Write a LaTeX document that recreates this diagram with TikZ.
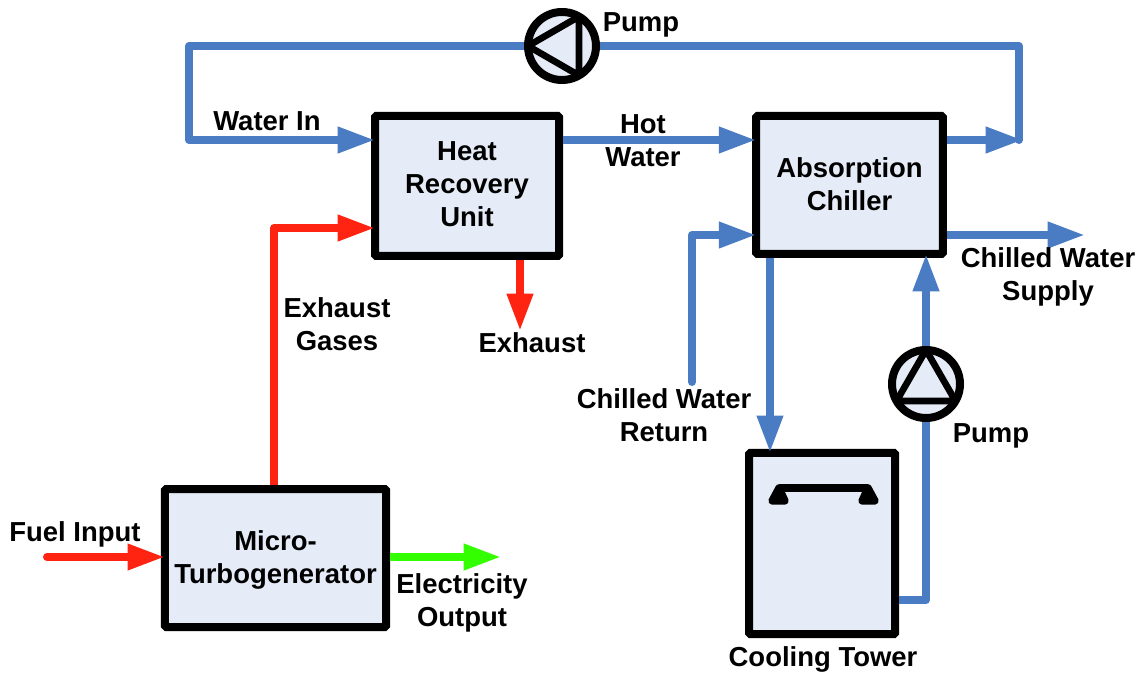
\documentclass[tikz,border=0pt]{standalone}
\usepackage{fontspec}
\setmainfont{Liberation Sans}
\usepackage{xcolor}
\usetikzlibrary{arrows.meta}
\definecolor{water}{HTML}{4A7CC3}
\definecolor{hotgas}{HTML}{FF2412}
\definecolor{power}{HTML}{33FF00}
\definecolor{unitfill}{HTML}{E6ECF7}
\begin{document}
\begin{tikzpicture}[
    x=0.75pt, y=-0.75pt,
    unit/.style={draw=black, line width=6pt, fill=unitfill, rounded corners=1pt,
                 align=center, inner sep=0pt, font=\fontsize{20.6}{24.75}\selectfont\bfseries},
    pump/.style={circle, draw=black, line width=6pt, fill=unitfill, minimum size=51pt, inner sep=0pt, outer sep=0pt},
    pumptri/.style={draw=black, line width=5pt, line join=round},
    lbl/.style={align=center, inner sep=0pt, font=\fontsize{20.6}{24.75}\selectfont\bfseries},
    pipe/.style={draw=water, line width=6pt, line join=round},
    flow/.style={-{Triangle[length=28pt, width=18.5pt]}, shorten >=-3pt},
    gas/.style={pipe, draw=hotgas},
    elec/.style={pipe, draw=power}
  ]
    \useasboundingbox (0,0) rectangle (1142,673);
    \fill[white] (0,0) rectangle (1142,673);

    % units
    \node[unit, minimum width=138pt, minimum height=105pt, text depth=3pt] (hru) at (467,186) {Heat\\Recovery\\Unit};
    \node[unit, minimum width=140pt, minimum height=103.5pt, text depth=1.5pt] (chiller) at (849.5,185) {Absorption\\Chiller};
    \node[unit, minimum width=166pt, minimum height=103.5pt] (mtg) at (275.5,558) {\rule{0pt}{18pt}Micro-\\Turbogenerator};
    \node[unit, minimum width=109.5pt, minimum height=136pt] (tower) at (822,543.5) {};

    % free ends
    \coordinate (fuelin) at (47,557);
    \coordinate (elecout) at (497,557);
    \coordinate (exhout) at (520,327);
    \coordinate (returnin) at (692,382);
    \coordinate (supplyout) at (1081,235);
    \coordinate (loopturn) at (1019,140);

    % pipes
    \draw[pipe, flow] (chiller.east |- loopturn) -- (loopturn);
    \draw[pipe, flow, line cap=round] (loopturn) -- (1019,46) -- (189,46) -- (189,140) -- (hru.west |- 0,140);
    \draw[pipe, flow] (hru.east |- 0,140) -- (chiller.west |- 0,140);
    \draw[pipe, flow, line cap=round] (returnin) -- (692,235) -- (chiller.west |- 0,235);
    \draw[pipe, flow] (chiller.east |- supplyout) -- (supplyout);
    \draw[pipe, flow] (chiller.south -| 770,0) -- (tower.north -| 770,0);
    \draw[pipe, flow] (tower.east |- 0,600) -- (926,600) -- (chiller.south -| 926,0);
    \draw[gas, flow] (mtg.north -| 274,0) -- (274,228) -- (hru.west |- 0,228);
    \draw[gas, flow] (hru.south -| exhout) -- (exhout);
    \draw[gas, flow, line cap=round] (fuelin) -- (mtg.west |- fuelin);
    \draw[elec, flow] (mtg.east |- elecout) -- (elecout);

    % pumps
    \node[pump] (pumptop) at (562,46) {};
    \draw[pumptri] (pumptop.180) -- (pumptop.60) -- (pumptop.-60) -- cycle;
    \node[pump] (pumpright) at (926,384) {};
    \draw[pumptri] (pumpright.90) -- (pumpright.210) -- (pumpright.-30) -- cycle;

    % fan in the tower
    \draw[black, line width=5.6pt, line join=round, fill=black]
      (772,501) -- (785,501) -- (779,488) -- cycle;
    \draw[black, line width=5.6pt, line join=round, fill=black]
      (862,501) -- (875,501) -- (868,488) -- cycle;
    \draw[black, line width=5.6pt] (779,488) -- (868,488);

    % labels
    \node[lbl] (lblpumptop) at (641,25) {Pump};
    \node[lbl] (lblwaterin) at (267,121) {Water In};
    \node[lbl] (lblhot) at (643,141) {Hot\\Water};
    \node[lbl] (lblsupply) at (1048,277) {Chilled Water\\Supply};
    \node[lbl] (lblexh) at (532,343) {Exhaust};
    \node[lbl] (lblgases) at (337,324) {Exhaust\\Gases};
    \node[lbl] (lblreturn) at (664,415) {Chilled Water\\Return};
    \node[lbl] (lblpumpright) at (991,436) {Pump};
    \node[lbl] (lblfuel) at (75,534) {Fuel Input};
    \node[lbl] (lblelec) at (462,603) {Electricity\\Output};
    \node[lbl] (lbltower) at (823,659) {Cooling Tower};
\end{tikzpicture}
\end{document}
